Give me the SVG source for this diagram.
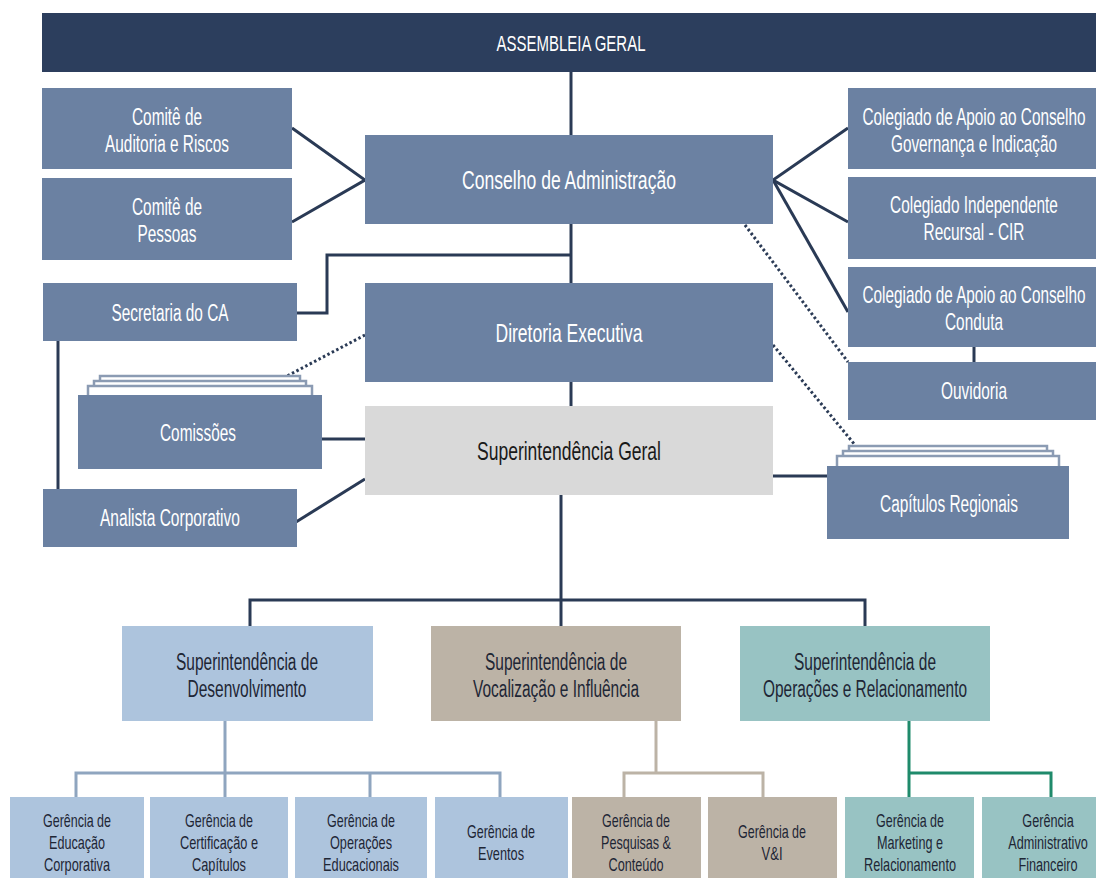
<svg xmlns="http://www.w3.org/2000/svg" width="1096" height="878" viewBox="0 0 1096 878">
<style>
text{font-family:"Liberation Sans",Arial,sans-serif;text-anchor:middle}
.slate{fill:#6b81a2}
.navy{fill:#2c3e5d}
.w{fill:#ffffff}
.big{font-size:26px}
.mid{font-size:23px}
.sm{font-size:19px}
.dk{fill:#1e2635}
.c{fill:none;stroke:#2a3a55;stroke-width:3}
.dot{fill:none;stroke:#2a3a55;stroke-width:3;stroke-dasharray:2.5 2.5}
.stk{fill:#ffffff;stroke:#8b9bb3;stroke-width:2.5}
.lb{fill:#adc4dd}
.bg{fill:#bcb3a6}
.tl{fill:#98c3c3}
</style>
<rect width="1096" height="878" fill="#ffffff"/>
<g id="connectors">
<line class="c" x1="571" y1="72" x2="571" y2="135"/>
<polyline class="c" points="292,128 365,180 292,222"/>
<polyline class="c" points="848,128 773,180 848,222"/>
<line class="c" x1="773" y1="180" x2="848" y2="312"/>
<line class="c" x1="571" y1="224" x2="571" y2="283"/>
<polyline class="c" points="297,313 327,313 327,255 571,255"/>
<line class="c" x1="571" y1="382" x2="571" y2="406"/>
<line class="c" x1="58" y1="341" x2="58" y2="489"/>
<line class="c" x1="974" y1="347" x2="974" y2="362"/>
<line class="c" x1="322" y1="439" x2="365" y2="439"/>
<line class="c" x1="296" y1="522" x2="365" y2="479"/>
<line class="c" x1="773" y1="476" x2="827" y2="476"/>
<line class="dot" x1="745" y1="225" x2="848" y2="362"/>
<line class="dot" x1="773" y1="345" x2="855" y2="445"/>
<line class="dot" x1="365" y1="335" x2="287" y2="376"/>
<line class="c" x1="561" y1="495" x2="561" y2="626"/>
<polyline class="c" points="250,626 250,600 865,600 865,626"/>
<g fill="none" stroke="#8fa5bf" stroke-width="3">
<line x1="225" y1="721" x2="225" y2="797"/>
<polyline points="76,797 76,773 500,773 500,797"/>
<line x1="370" y1="773" x2="370" y2="797"/>
</g>
<g fill="none" stroke="#bcb3a6" stroke-width="3">
<line x1="656" y1="721" x2="656" y2="773"/>
<polyline points="624,797 624,773 763,773 763,797"/>
</g>
<g fill="none" stroke="#1f8a6b" stroke-width="3">
<line x1="909" y1="721" x2="909" y2="797"/>
<polyline points="909,773 1051,773 1051,797"/>
</g>
</g>
<g id="assembleia"><rect class="navy" x="42" y="13" width="1054" height="59"/><text class="w" x="571" y="51" font-size="22" textLength="149" lengthAdjust="spacingAndGlyphs">ASSEMBLEIA GERAL</text></g>
<g id="comite-auditoria"><rect class="slate" x="42" y="88" width="250" height="81"/><text class="w mid" x="167" y="125" textLength="70" lengthAdjust="spacingAndGlyphs">Comitê de</text><text class="w mid" x="167" y="152" textLength="124" lengthAdjust="spacingAndGlyphs">Auditoria e Riscos</text></g>
<g id="comite-pessoas"><rect class="slate" x="42" y="178" width="250" height="82"/><text class="w mid" x="167" y="215" textLength="70" lengthAdjust="spacingAndGlyphs">Comitê de</text><text class="w mid" x="167" y="242" textLength="59" lengthAdjust="spacingAndGlyphs">Pessoas</text></g>
<g id="conselho"><rect class="slate" x="365" y="135" width="408" height="89"/><text class="w big" x="569" y="189" textLength="214" lengthAdjust="spacingAndGlyphs">Conselho de Administração</text></g>
<g id="colegiado-governanca"><rect class="slate" x="848" y="88" width="248" height="81"/><g transform="translate(974,0) scale(0.666,1)"><text class="w mid" x="0" y="125">Colegiado de Apoio ao Conselho</text><text class="w mid" x="0" y="152">Governança e Indicação</text></g></g>
<g id="colegiado-independente"><rect class="slate" x="848" y="177" width="248" height="82"/><g transform="translate(974,0) scale(0.67,1)"><text class="w mid" x="0" y="213">Colegiado Independente</text><text class="w mid" x="0" y="240">Recursal - CIR</text></g></g>
<g id="colegiado-conduta"><rect class="slate" x="848" y="267" width="248" height="80"/><g transform="translate(974,0) scale(0.666,1)"><text class="w mid" x="0" y="303">Colegiado de Apoio ao Conselho</text><text class="w mid" x="0" y="330">Conduta</text></g></g>
<g id="ouvidoria"><rect class="slate" x="848" y="362" width="248" height="58"/><g transform="translate(974,0) scale(0.67,1)"><text class="w mid" x="0" y="399">Ouvidoria</text></g></g>
<g id="secretaria"><rect class="slate" x="43" y="283" width="254" height="58"/><text class="w mid" x="170" y="321" textLength="117" lengthAdjust="spacingAndGlyphs">Secretaria do CA</text></g>
<g id="diretoria"><rect class="slate" x="365" y="283" width="408" height="99"/><text class="w big" x="569" y="342" textLength="147" lengthAdjust="spacingAndGlyphs">Diretoria Executiva</text></g>
<g id="comissoes">
<rect class="stk" x="100" y="376" width="200" height="22"/>
<rect class="stk" x="94" y="381" width="212" height="17"/>
<rect class="stk" x="88" y="386" width="224" height="12"/>
<rect class="slate" x="78" y="395" width="244" height="74"/><text class="w mid" x="198" y="441" textLength="76" lengthAdjust="spacingAndGlyphs">Comissões</text></g>
<g id="superintendencia-geral"><rect fill="#d9d9d9" x="365" y="406" width="408" height="89"/><text class="big" fill="#1a1a1a" x="569" y="460" textLength="184" lengthAdjust="spacingAndGlyphs">Superintendência Geral</text></g>
<g id="analista"><rect class="slate" x="43" y="489" width="254" height="58"/><text class="w mid" x="170" y="526" textLength="140" lengthAdjust="spacingAndGlyphs">Analista Corporativo</text></g>
<g id="capitulos">
<rect class="stk" x="849" y="446" width="198" height="22"/>
<rect class="stk" x="843" y="451" width="210" height="17"/>
<rect class="stk" x="837" y="456" width="222" height="12"/>
<rect class="slate" x="827" y="466" width="242" height="73"/><text class="w mid" x="949" y="512" textLength="138" lengthAdjust="spacingAndGlyphs">Capítulos Regionais</text></g>
<g id="sup-desenvolvimento"><rect class="lb" x="122" y="626" width="251" height="95"/><text class="dk mid" x="247" y="670" textLength="142" lengthAdjust="spacingAndGlyphs">Superintendência de</text><text class="dk mid" x="247" y="697" textLength="119" lengthAdjust="spacingAndGlyphs">Desenvolvimento</text></g>
<g id="sup-vocalizacao"><rect class="bg" x="431" y="626" width="250" height="95"/><text class="dk mid" x="556" y="670" textLength="142" lengthAdjust="spacingAndGlyphs">Superintendência de</text><text class="dk mid" x="556" y="697" textLength="166" lengthAdjust="spacingAndGlyphs">Vocalização e Influência</text></g>
<g id="sup-operacoes"><rect class="tl" x="740" y="626" width="250" height="95"/><text class="dk mid" x="865" y="670" textLength="142" lengthAdjust="spacingAndGlyphs">Superintendência de</text><text class="dk mid" x="865" y="697" textLength="204" lengthAdjust="spacingAndGlyphs">Operações e Relacionamento</text></g>
<g id="ger-educacao"><rect class="lb" x="10" y="797" width="134" height="81"/><text class="dk sm" x="77" y="827" textLength="68" lengthAdjust="spacingAndGlyphs">Gerência de</text><text class="dk sm" x="77" y="849" textLength="56" lengthAdjust="spacingAndGlyphs">Educação</text><text class="dk sm" x="77" y="871" textLength="66" lengthAdjust="spacingAndGlyphs">Corporativa</text></g>
<g id="ger-certificacao"><rect class="lb" x="150" y="797" width="138" height="81"/><text class="dk sm" x="219" y="827" textLength="68" lengthAdjust="spacingAndGlyphs">Gerência de</text><text class="dk sm" x="219" y="849" textLength="78" lengthAdjust="spacingAndGlyphs">Certificação e</text><text class="dk sm" x="219" y="871" textLength="54" lengthAdjust="spacingAndGlyphs">Capítulos</text></g>
<g id="ger-operacoes-educacionais"><rect class="lb" x="295" y="797" width="132" height="81"/><text class="dk sm" x="361" y="827" textLength="68" lengthAdjust="spacingAndGlyphs">Gerência de</text><text class="dk sm" x="361" y="849" textLength="62" lengthAdjust="spacingAndGlyphs">Operações</text><text class="dk sm" x="361" y="871" textLength="76" lengthAdjust="spacingAndGlyphs">Educacionais</text></g>
<g id="ger-eventos"><rect class="lb" x="435" y="797" width="133" height="81"/><text class="dk sm" x="501" y="838" textLength="68" lengthAdjust="spacingAndGlyphs">Gerência de</text><text class="dk sm" x="501" y="860" textLength="46" lengthAdjust="spacingAndGlyphs">Eventos</text></g>
<g id="ger-pesquisas"><rect class="bg" x="572" y="797" width="129" height="81"/><text class="dk sm" x="636" y="827" textLength="68" lengthAdjust="spacingAndGlyphs">Gerência de</text><text class="dk sm" x="636" y="849" textLength="70" lengthAdjust="spacingAndGlyphs">Pesquisas &amp;</text><text class="dk sm" x="636" y="871" textLength="55" lengthAdjust="spacingAndGlyphs">Conteúdo</text></g>
<g id="ger-vi"><rect class="bg" x="708" y="797" width="129" height="81"/><text class="dk sm" x="772" y="838" textLength="68" lengthAdjust="spacingAndGlyphs">Gerência de</text><text class="dk sm" x="772" y="860" textLength="21" lengthAdjust="spacingAndGlyphs">V&amp;I</text></g>
<g id="ger-marketing"><rect class="tl" x="845" y="797" width="129" height="81"/><text class="dk sm" x="910" y="827" textLength="68" lengthAdjust="spacingAndGlyphs">Gerência de</text><text class="dk sm" x="910" y="849" textLength="66" lengthAdjust="spacingAndGlyphs">Marketing e</text><text class="dk sm" x="910" y="871" textLength="92" lengthAdjust="spacingAndGlyphs">Relacionamento</text></g>
<g id="ger-administrativo"><rect class="tl" x="982" y="797" width="114" height="81"/><g transform="translate(1048,0) scale(0.668,1)"><text class="dk sm" x="0" y="827">Gerência</text><text class="dk sm" x="0" y="849">Administrativo</text><text class="dk sm" x="0" y="871">Financeiro</text></g></g>
</svg>
